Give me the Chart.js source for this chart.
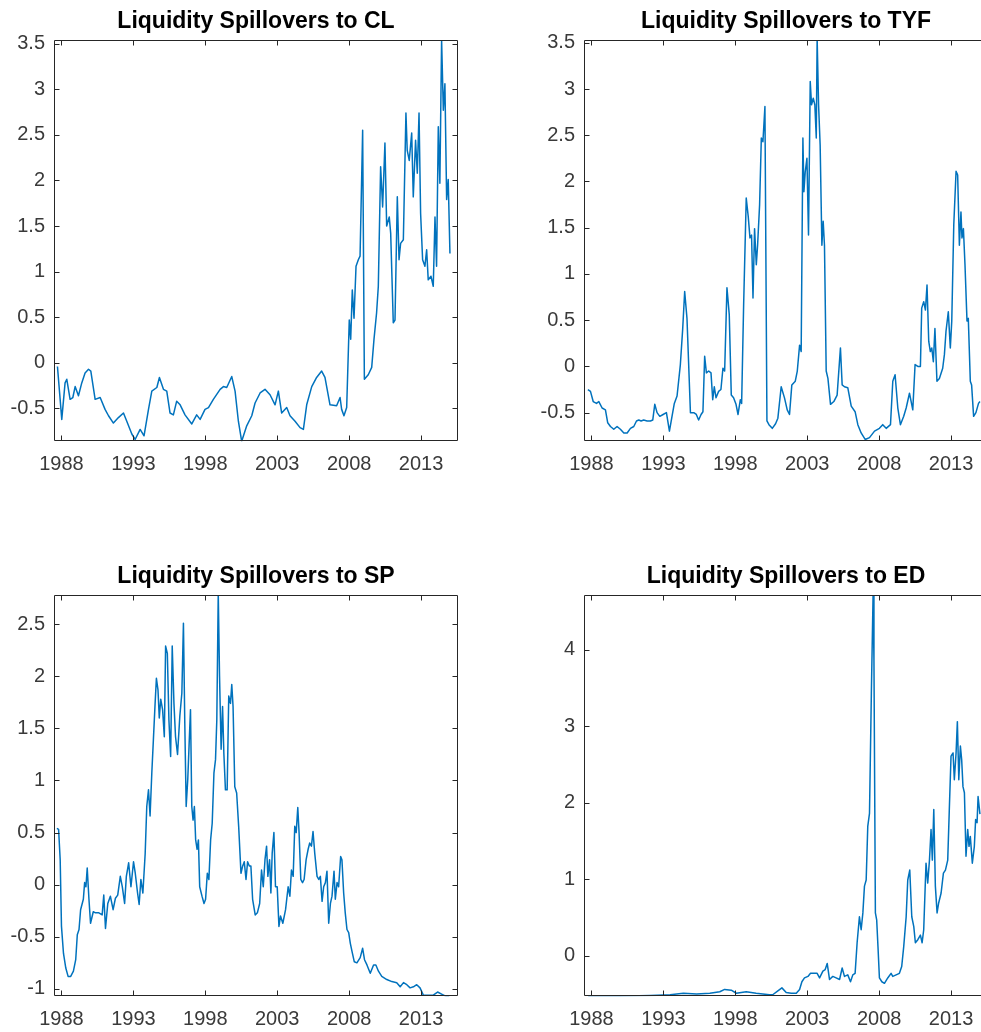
<!DOCTYPE html>
<html><head><meta charset="utf-8">
<script src="https://cdn.jsdelivr.net/npm/chart.js@4.4.0/dist/chart.umd.min.js"></script>
<style>
html,body{margin:0;padding:0;background:#fff;overflow:hidden;width:981px;height:1032px;}
canvas{position:absolute;}
</style></head><body>
<canvas id="c1" width="490" height="480" style="left:0;top:0"></canvas>
<canvas id="c2" width="520" height="480" style="left:490px;top:0"></canvas>
<canvas id="c3" width="490" height="480" style="left:0;top:555px"></canvas>
<canvas id="c4" width="520" height="480" style="left:490px;top:555px"></canvas>
<script>
// ---- data (year, value) ----
const xTickYears = [1988, 1993, 1998, 2003, 2008, 2013];
const yTicksCL  = [-0.5, 0, 0.5, 1, 1.5, 2, 2.5, 3, 3.5];
const yTicksTYF = [-0.5, 0, 0.5, 1, 1.5, 2, 2.5, 3, 3.5];
const yTicksSP  = [-1, -0.5, 0, 0.5, 1, 1.5, 2, 2.5];
const yTicksED  = [0, 1, 2, 3, 4];

const titles = ["Liquidity Spillovers to CL", "Liquidity Spillovers to TYF", "Liquidity Spillovers to SP", "Liquidity Spillovers to ED"];

const seriesCL = [[1987.72,-0.04],[1988.02,-0.62],[1988.25,-0.22],[1988.37,-0.18],[1988.60,-0.40],[1988.79,-0.38],[1988.95,-0.26],[1989.18,-0.36],[1989.41,-0.22],[1989.64,-0.11],[1989.88,-0.07],[1990.04,-0.09],[1990.34,-0.40],[1990.69,-0.38],[1991.03,-0.51],[1991.27,-0.58],[1991.61,-0.66],[1991.96,-0.60],[1992.31,-0.55],[1992.54,-0.64],[1992.89,-0.78],[1993.12,-0.84],[1993.47,-0.73],[1993.74,-0.80],[1994.05,-0.51],[1994.28,-0.31],[1994.63,-0.27],[1994.81,-0.16],[1995.09,-0.29],[1995.32,-0.31],[1995.55,-0.55],[1995.78,-0.57],[1996.01,-0.42],[1996.25,-0.46],[1996.59,-0.57],[1997.06,-0.67],[1997.40,-0.57],[1997.64,-0.62],[1997.98,-0.51],[1998.22,-0.49],[1998.56,-0.40],[1999.03,-0.29],[1999.26,-0.26],[1999.49,-0.27],[1999.84,-0.15],[2000.07,-0.31],[2000.30,-0.64],[2000.53,-0.86],[2000.88,-0.69],[2001.23,-0.58],[2001.46,-0.44],[2001.81,-0.33],[2002.15,-0.29],[2002.50,-0.35],[2002.85,-0.46],[2003.08,-0.31],[2003.31,-0.55],[2003.66,-0.49],[2003.89,-0.58],[2004.24,-0.64],[2004.59,-0.71],[2004.82,-0.73],[2005.05,-0.46],[2005.40,-0.26],[2005.74,-0.16],[2006.09,-0.09],[2006.32,-0.16],[2006.67,-0.46],[2007.13,-0.47],[2007.37,-0.38],[2007.48,-0.51],[2007.64,-0.58],[2007.83,-0.49],[2008.01,0.47],[2008.11,0.26],[2008.22,0.80],[2008.34,0.49],[2008.48,1.06],[2008.64,1.13],[2008.76,1.17],[2008.94,2.55],[2009.06,-0.18],[2009.33,-0.13],[2009.57,-0.05],[2009.73,0.26],[2009.91,0.55],[2010.03,0.84],[2010.19,2.15],[2010.33,1.71],[2010.49,2.41],[2010.61,1.50],[2010.79,1.60],[2010.89,1.42],[2011.07,0.44],[2011.19,0.47],[2011.35,1.82],[2011.47,1.13],[2011.58,1.31],[2011.77,1.35],[2011.95,2.74],[2012.04,2.33],[2012.18,2.22],[2012.35,2.52],[2012.46,1.82],[2012.62,2.44],[2012.74,2.08],[2012.86,2.74],[2012.97,1.64],[2013.11,1.13],[2013.27,1.06],[2013.39,1.24],[2013.50,0.91],[2013.69,0.95],[2013.85,0.84],[2013.97,1.60],[2014.08,1.06],[2014.20,2.59],[2014.31,1.97],[2014.43,3.54],[2014.55,2.77],[2014.66,3.06],[2014.78,1.79],[2014.89,2.01],[2015.01,1.20]];

const seriesTYF = [[1987.75,-0.25],[1987.93,-0.27],[1988.12,-0.38],[1988.35,-0.40],[1988.51,-0.38],[1988.74,-0.45],[1988.97,-0.47],[1989.13,-0.61],[1989.32,-0.65],[1989.55,-0.68],[1989.78,-0.65],[1990.01,-0.68],[1990.25,-0.72],[1990.48,-0.72],[1990.71,-0.67],[1990.94,-0.65],[1991.13,-0.59],[1991.29,-0.58],[1991.45,-0.59],[1991.63,-0.58],[1991.87,-0.59],[1992.10,-0.59],[1992.26,-0.58],[1992.40,-0.41],[1992.56,-0.50],[1992.75,-0.54],[1992.98,-0.52],[1993.21,-0.50],[1993.42,-0.70],[1993.60,-0.54],[1993.76,-0.40],[1993.95,-0.32],[1994.18,0.02],[1994.34,0.40],[1994.48,0.81],[1994.64,0.52],[1994.88,-0.50],[1995.11,-0.50],[1995.29,-0.52],[1995.45,-0.58],[1995.62,-0.52],[1995.75,-0.49],[1995.87,0.11],[1995.99,-0.07],[1996.15,-0.05],[1996.31,-0.07],[1996.43,-0.36],[1996.54,-0.22],[1996.66,-0.34],[1996.84,-0.27],[1997.00,-0.25],[1997.14,-0.02],[1997.26,-0.05],[1997.42,0.85],[1997.58,0.56],[1997.72,-0.31],[1997.88,-0.34],[1998.05,-0.41],[1998.19,-0.52],[1998.35,-0.36],[1998.44,-0.40],[1998.58,0.67],[1998.76,1.82],[1998.90,1.62],[1999.02,1.39],[1999.13,1.42],[1999.23,0.74],[1999.34,1.49],[1999.46,1.10],[1999.55,1.31],[1999.69,1.75],[1999.81,2.47],[1999.92,2.43],[2000.06,2.81],[2000.20,-0.59],[2000.34,-0.63],[2000.57,-0.67],[2000.80,-0.62],[2000.96,-0.56],[2001.19,-0.22],[2001.42,-0.34],[2001.61,-0.47],[2001.77,-0.52],[2001.93,-0.20],[2002.17,-0.16],[2002.31,-0.05],[2002.47,0.23],[2002.58,0.16],[2002.70,2.47],[2002.77,1.89],[2002.86,2.10],[2002.98,2.25],[2003.09,1.42],[2003.21,3.08],[2003.30,2.83],[2003.42,2.90],[2003.53,2.83],[2003.63,2.47],[2003.69,3.55],[2003.79,2.83],[2003.90,2.39],[2004.02,1.31],[2004.11,1.57],[2004.20,1.31],[2004.32,-0.05],[2004.44,-0.13],[2004.62,-0.41],[2004.85,-0.38],[2005.08,-0.31],[2005.31,0.20],[2005.43,-0.20],[2005.59,-0.22],[2005.82,-0.23],[2006.06,-0.43],[2006.33,-0.49],[2006.52,-0.63],[2006.75,-0.72],[2007.03,-0.79],[2007.33,-0.77],[2007.68,-0.70],[2008.02,-0.67],[2008.25,-0.63],[2008.49,-0.67],[2008.79,-0.63],[2008.95,-0.16],[2009.11,-0.09],[2009.30,-0.45],[2009.48,-0.63],[2009.71,-0.54],[2009.88,-0.45],[2010.11,-0.29],[2010.34,-0.47],[2010.50,0.02],[2010.69,0.00],[2010.87,0.00],[2010.96,0.63],[2011.10,0.70],[2011.22,0.61],[2011.33,0.88],[2011.45,0.27],[2011.56,0.16],[2011.66,0.20],[2011.77,0.05],[2011.88,0.41],[2012.02,-0.16],[2012.19,-0.13],[2012.42,-0.02],[2012.54,0.13],[2012.65,0.38],[2012.81,0.59],[2012.95,0.20],[2013.05,0.49],[2013.19,1.53],[2013.35,2.11],[2013.46,2.07],[2013.58,1.31],[2013.69,1.67],[2013.76,1.39],[2013.86,1.49],[2013.97,1.10],[2014.11,0.49],[2014.20,0.52],[2014.34,-0.16],[2014.43,-0.20],[2014.57,-0.54],[2014.73,-0.50],[2014.91,-0.40],[2015.01,-0.38]];

const seriesSP = [[1987.68,0.54],[1987.80,0.53],[1987.91,0.24],[1988.00,-0.40],[1988.14,-0.66],[1988.30,-0.80],[1988.46,-0.88],[1988.64,-0.88],[1988.83,-0.83],[1988.99,-0.72],[1989.10,-0.48],[1989.22,-0.43],[1989.33,-0.24],[1989.52,-0.14],[1989.61,0.02],[1989.70,-0.02],[1989.79,0.16],[1989.91,-0.14],[1990.02,-0.37],[1990.21,-0.26],[1990.37,-0.27],[1990.60,-0.27],[1990.83,-0.29],[1990.94,-0.10],[1991.06,-0.42],[1991.22,-0.18],[1991.40,-0.11],[1991.59,-0.24],[1991.75,-0.13],[1991.91,-0.10],[1992.09,0.08],[1992.23,-0.02],[1992.39,-0.18],[1992.51,0.08],[1992.67,0.21],[1992.83,-0.02],[1993.01,0.22],[1993.13,0.11],[1993.29,-0.08],[1993.40,-0.19],[1993.52,0.05],[1993.66,-0.08],[1993.82,0.30],[1993.93,0.75],[1994.05,0.91],[1994.16,0.66],[1994.28,1.07],[1994.39,1.39],[1994.51,1.74],[1994.60,1.98],[1994.71,1.87],[1994.80,1.60],[1994.90,1.78],[1995.03,1.68],[1995.15,1.42],[1995.24,2.29],[1995.36,2.22],[1995.47,1.58],[1995.59,1.23],[1995.70,2.29],[1995.82,1.74],[1995.93,1.42],[1996.07,1.25],[1996.23,1.62],[1996.37,1.84],[1996.48,2.51],[1996.57,1.58],[1996.67,0.75],[1996.78,1.01],[1996.87,1.33],[1996.97,1.68],[1997.06,0.75],[1997.15,0.62],[1997.24,0.75],[1997.33,0.43],[1997.43,0.34],[1997.52,0.43],[1997.61,-0.02],[1997.77,-0.11],[1997.91,-0.18],[1998.02,-0.14],[1998.14,0.11],[1998.25,0.05],[1998.37,0.43],[1998.48,0.59],[1998.60,1.07],[1998.71,1.20],[1998.80,1.58],[1998.90,2.80],[1998.99,2.00],[1999.10,1.30],[1999.20,1.71],[1999.29,1.26],[1999.40,0.91],[1999.52,0.91],[1999.63,1.81],[1999.75,1.74],[1999.84,1.92],[1999.93,1.71],[2000.05,0.94],[2000.18,0.88],[2000.32,0.56],[2000.48,0.11],[2000.60,0.18],[2000.71,0.22],[2000.83,0.05],[2000.94,0.22],[2001.06,0.18],[2001.17,0.18],[2001.29,-0.14],[2001.47,-0.29],[2001.62,-0.27],[2001.78,-0.18],[2001.91,0.14],[2002.03,-0.02],[2002.15,0.24],[2002.26,0.37],[2002.35,0.08],[2002.47,0.24],[2002.56,-0.08],[2002.65,0.30],[2002.77,0.50],[2002.88,-0.02],[2003.00,-0.02],[2003.12,-0.40],[2003.23,-0.30],[2003.39,-0.37],[2003.58,-0.24],[2003.76,-0.02],[2003.88,-0.11],[2003.99,0.14],[2004.11,0.08],[2004.22,0.56],[2004.32,0.50],[2004.43,0.74],[2004.52,0.50],[2004.64,0.05],[2004.76,0.02],[2004.87,0.05],[2005.01,0.24],[2005.15,0.34],[2005.26,0.40],[2005.38,0.37],[2005.49,0.51],[2005.61,0.30],[2005.77,0.08],[2005.89,0.05],[2006.00,0.08],[2006.12,-0.16],[2006.23,-0.02],[2006.35,0.02],[2006.46,0.13],[2006.58,-0.37],[2006.70,-0.18],[2006.81,-0.11],[2006.95,0.13],[2007.04,-0.14],[2007.16,0.02],[2007.27,-0.02],[2007.41,0.27],[2007.50,0.24],[2007.62,-0.08],[2007.73,-0.27],[2007.85,-0.43],[2007.97,-0.46],[2008.08,-0.56],[2008.20,-0.64],[2008.36,-0.74],[2008.54,-0.75],[2008.77,-0.70],[2008.94,-0.61],[2009.07,-0.72],[2009.24,-0.77],[2009.47,-0.85],[2009.70,-0.77],[2009.86,-0.77],[2010.04,-0.83],[2010.27,-0.88],[2010.62,-0.91],[2010.97,-0.93],[2011.31,-0.94],[2011.55,-0.98],[2011.78,-0.94],[2012.01,-0.96],[2012.24,-0.99],[2012.47,-0.98],[2012.70,-0.96],[2012.93,-0.99],[2013.16,-1.06],[2013.51,-1.06],[2013.85,-1.06],[2014.15,-1.03],[2014.43,-1.05],[2014.71,-1.07],[2014.96,-1.07]];

const seriesED = [[1987.77,-0.53],[1989.79,-0.53],[1992.09,-0.52],[1993.47,-0.51],[1994.39,-0.49],[1995.31,-0.50],[1996.23,-0.49],[1996.92,-0.47],[1997.26,-0.44],[1997.72,-0.45],[1998.07,-0.49],[1998.76,-0.47],[1999.45,-0.49],[2000.37,-0.51],[2000.60,-0.51],[2000.96,-0.46],[2001.24,-0.42],[2001.54,-0.48],[2001.89,-0.49],[2002.24,-0.49],[2002.47,-0.44],[2002.63,-0.34],[2002.81,-0.29],[2003.05,-0.27],[2003.23,-0.23],[2003.51,-0.23],[2003.69,-0.23],[2003.86,-0.29],[2004.09,-0.20],[2004.25,-0.18],[2004.39,-0.10],[2004.55,-0.31],[2004.78,-0.27],[2005.01,-0.29],[2005.25,-0.31],[2005.43,-0.16],[2005.59,-0.27],[2005.82,-0.25],[2006.01,-0.34],[2006.17,-0.25],[2006.33,-0.23],[2006.47,0.17],[2006.63,0.51],[2006.75,0.34],[2006.87,0.56],[2006.98,0.91],[2007.10,0.99],[2007.21,1.69],[2007.33,1.86],[2007.46,3.43],[2007.58,4.72],[2007.64,3.87],[2007.74,0.56],[2007.83,0.47],[2007.92,0.12],[2008.02,-0.29],[2008.19,-0.34],[2008.37,-0.36],[2008.60,-0.29],[2008.83,-0.23],[2008.95,-0.27],[2009.18,-0.25],[2009.41,-0.23],[2009.57,-0.14],[2009.71,0.12],[2009.88,0.51],[2009.99,0.99],[2010.13,1.12],[2010.27,0.51],[2010.41,0.38],[2010.52,0.17],[2010.69,0.21],[2010.87,0.27],[2010.99,0.17],[2011.10,0.34],[2011.26,1.21],[2011.38,0.95],[2011.50,1.25],[2011.61,1.65],[2011.70,1.25],[2011.80,1.91],[2011.91,0.91],[2012.03,0.56],[2012.14,0.69],[2012.31,0.82],[2012.47,1.08],[2012.61,1.12],[2012.77,1.25],[2012.88,1.91],[2013.00,2.61],[2013.14,2.65],[2013.23,2.30],[2013.35,2.65],[2013.44,3.06],[2013.54,2.30],[2013.65,2.74],[2013.74,2.56],[2013.83,2.21],[2013.93,2.13],[2014.04,1.30],[2014.16,1.65],[2014.25,1.43],[2014.34,1.56],[2014.48,1.21],[2014.62,1.43],[2014.71,1.78],[2014.81,1.74],[2014.88,2.08],[2015.01,1.85]];

// axis limits (tight, as in the reference)
const xLimits = [1987.48, 2015.57];
const yLimitsCL  = [-0.86, 3.54];
const yLimitsTYF = [-0.81, 3.53];
const yLimitsSP  = [-1.071, 2.78];
const yLimitsED  = [-0.53, 4.715];

// ---- drawing ----
const FONT = '"Liberation Sans", Arial, Helvetica, sans-serif';
const LINE = '#0072BD';
const AXIS = '#262626';

const matlabBox = {
  id: 'matlabBox',
  afterDatasetsDraw(chart) {
    const {ctx, chartArea: a, scales} = chart;
    const L = Math.round(a.left) + 0.5, R = Math.round(a.right) - 0.5;
    const T = Math.round(a.top) + 0.5, B = Math.round(a.bottom) - 0.5;
    const tl = 5;
    ctx.save();
    ctx.strokeStyle = AXIS;
    ctx.lineWidth = 1;
    ctx.beginPath();
    ctx.rect(L, T, R - L, B - T);
    scales.x.ticks.forEach(t => {
      const px = Math.round(scales.x.getPixelForValue(t.value)) + 0.5;
      ctx.moveTo(px, B); ctx.lineTo(px, B - tl);
      ctx.moveTo(px, T); ctx.lineTo(px, T + tl);
    });
    scales.y.ticks.forEach(t => {
      const py = Math.round(scales.y.getPixelForValue(t.value)) + 0.5;
      ctx.moveTo(L, py); ctx.lineTo(L + tl, py);
      ctx.moveTo(R, py); ctx.lineTo(R - tl, py);
    });
    ctx.stroke();
    ctx.restore();
  }
};

function makeChart(id, title, series, yLim, yTicks, yAxisWidth, padRight) {
  return new Chart(document.getElementById(id), {
    type: 'line',
    data: { datasets: [{
      data: series.map(p => ({x: p[0], y: p[1]})),
      borderColor: LINE, borderWidth: 1.5, pointRadius: 0, tension: 0, fill: false, clip: 0,
      borderJoinStyle: 'round'
    }]},
    options: {
      responsive: false, animation: false, devicePixelRatio: 1,
      layout: { padding: { left: 0, right: padRight, top: 0, bottom: 0 } },
      plugins: {
        legend: { display: false }, tooltip: { enabled: false },
        title: { display: true, text: title, fullSize: false, color: '#000',
                 font: { family: FONT, size: 23, weight: 'bold' },
                 padding: { top: 8, bottom: 4.4 } }
      },
      scales: {
        x: {
          type: 'linear', min: xLimits[0], max: xLimits[1],
          grid: { display: false, drawTicks: false }, border: { display: false },
          afterBuildTicks: s => { s.ticks = xTickYears.map(v => ({ value: v })); },
          afterFit: s => { s.height = 38.7; },
          ticks: { color: '#3a3a3a', font: { family: FONT, size: 20 }, padding: 11,
                   maxRotation: 0, autoSkip: false, callback: v => String(v) }
        },
        y: {
          type: 'linear', min: yLim[0], max: yLim[1],
          grid: { display: false, drawTicks: false }, border: { display: false },
          afterBuildTicks: s => { s.ticks = yTicks.map(v => ({ value: v })); },
          afterFit: s => { s.width = yAxisWidth; },
          ticks: { color: '#3a3a3a', font: { family: FONT, size: 20 }, padding: 9,
                   autoSkip: false, callback: v => String(v) }
        }
      }
    },
    plugins: [matlabBox]
  });
}

makeChart('c1', titles[0], seriesCL,  yLimitsCL,  yTicksCL,  54, 32);
makeChart('c2', titles[1], seriesTYF, yLimitsTYF, yTicksTYF, 94, 22);
makeChart('c3', titles[2], seriesSP,  yLimitsSP,  yTicksSP,  54, 32);
makeChart('c4', titles[3], seriesED,  yLimitsED,  yTicksED,  94, 22);
</script>
</body></html>
